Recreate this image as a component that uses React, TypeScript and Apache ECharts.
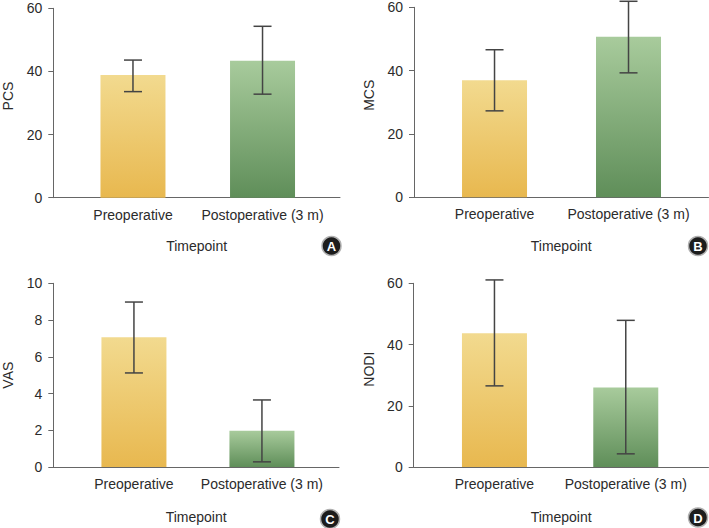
import React, { useEffect, useRef } from "react";
import * as echarts from "echarts";

const categories = ["Preoperative", "Postoperative (3 m)"];

const pcsMean = [38.9, 43.4];
const pcsLow = [33.6, 32.8];
const pcsHigh = [43.6, 54.3];

const mcsMean = [37.0, 50.7];
const mcsLow = [27.3, 39.3];
const mcsHigh = [46.6, 61.9];

const vasMean = [7.06, 1.98];
const vasLow = [5.12, 0.28];
const vasHigh = [8.98, 3.65];

const nodiMean = [43.7, 26.0];
const nodiLow = [26.5, 4.3];
const nodiHigh = [61.1, 47.9];

const yTicksA = { max: 60, interval: 20 };
const yTicksB = { max: 60, interval: 20 };
const yTicksC = { max: 10, interval: 2 };
const yTicksD = { max: 60, interval: 20 };

const FONT = "'Liberation Sans', Arial, Helvetica, sans-serif";
const TEXT = "#2b2b2b";
const AXIS = "#666";

const panels = [
  { name: "PCS", mean: pcsMean, low: pcsLow, high: pcsHigh, y: yTicksA, badge: "A",
    grid: { left: 53.3, top: 8.3, width: 286.7, height: 189.4 }, xmin: -0.615, xmax: 1.598, nameGap: 41,
    namePad: 14, badgePos: [331.5, 246] },
  { name: "MCS", mean: mcsMean, low: mcsLow, high: mcsHigh, y: yTicksB, badge: "B",
    grid: { left: 414, top: 7.3, width: 294.5, height: 190 }, xmin: -0.601, xmax: 1.597, nameGap: 41.5,
    namePad: 14, badgePos: [698, 246] },
  { name: "VAS", mean: vasMean, low: vasLow, high: vasHigh, y: yTicksC, badge: "C",
    grid: { left: 53.3, top: 283.3, width: 285.7, height: 183.7 }, xmin: -0.63, xmax: 1.602, nameGap: 43,
    namePad: 0, badgePos: [330, 519] },
  { name: "NODI", mean: nodiMean, low: nodiLow, high: nodiHigh, y: yTicksD, badge: "D",
    grid: { left: 413.7, top: 283.3, width: 294.8, height: 183.7 }, xmin: -0.615, xmax: 1.63, nameGap: 43,
    namePad: 12, badgePos: [698, 517.5] },
];

const barColors = [
  ["#f2da8f", "#e8b84f"],
  ["#a8cb9c", "#5f8e59"],
];

export default function App() {
  const ref = useRef<HTMLDivElement>(null);
  useEffect(() => {
    document.body.style.margin = "0";
    if (!ref.current) return;
    const chart = echarts.init(ref.current, null, { renderer: "svg" });

    const grid: any[] = [];
    const xAxis: any[] = [];
    const yAxis: any[] = [];
    const series: any[] = [];
    const graphic: any[] = [];

    panels.forEach((p, i) => {
      grid.push({ ...p.grid });
      xAxis.push({
        type: "value",
        gridIndex: i,
        min: p.xmin,
        max: p.xmax,
        name: "Timepoint",
        nameLocation: "middle",
        nameGap: p.nameGap,
        nameTextStyle: { fontFamily: FONT, fontSize: 14, color: TEXT },
        axisLine: { show: true, onZero: false, lineStyle: { color: AXIS, width: 1 } },
        axisTick: { show: false },
        splitLine: { show: false },
        axisLabel: {
          customValues: [0, 1],
          formatter: (v: number) => categories[Math.round(v)] ?? "",
          fontFamily: FONT,
          fontSize: 14,
          color: TEXT,
          margin: 10,
        },
      });
      yAxis.push({
        type: "value",
        gridIndex: i,
        min: 0,
        max: p.y.max,
        interval: p.y.interval,
        name: p.name,
        nameLocation: "middle",
        nameGap: 38,
        nameTextStyle: { fontFamily: FONT, fontSize: 14, color: TEXT, padding: [0, 0, 0, p.namePad] },
        axisLine: { show: true, onZero: false, lineStyle: { color: AXIS, width: 1 } },
        axisTick: { show: true, length: 5, lineStyle: { color: AXIS } },
        splitLine: { show: false },
        axisLabel: { fontFamily: FONT, fontSize: 14, color: TEXT, margin: 11 },
      });
      series.push({
        type: "bar",
        xAxisIndex: i,
        yAxisIndex: i,
        barWidth: 65,
        data: p.mean.map((m, j) => ({
          value: [j, m],
          itemStyle: {
            color: new echarts.graphic.LinearGradient(0, 0, 0, 1, [
              { offset: 0, color: barColors[j][0] },
              { offset: 1, color: barColors[j][1] },
            ]),
          },
        })),
        z: 2,
      });
      series.push({
        type: "custom",
        xAxisIndex: i,
        yAxisIndex: i,
        z: 5,
        clip: false,
        data: p.mean.map((_, j) => [j, p.low[j], p.high[j]]),
        encode: { x: 0, y: [1, 2] },
        renderItem: (params: any, api: any) => {
          const x = api.value(0);
          const lo = api.coord([x, api.value(1)]);
          const hi = api.coord([x, api.value(2)]);
          const half = 9;
          const style = { stroke: "#444", lineWidth: 1.5 };
          return {
            type: "group",
            children: [
              { type: "line", shape: { x1: hi[0], y1: hi[1], x2: lo[0], y2: lo[1] }, style },
              { type: "line", shape: { x1: hi[0] - half, y1: hi[1], x2: hi[0] + half, y2: hi[1] }, style },
              { type: "line", shape: { x1: lo[0] - half, y1: lo[1], x2: lo[0] + half, y2: lo[1] }, style },
            ],
          };
        },
      });
      graphic.push({
        type: "group",
        x: p.badgePos[0],
        y: p.badgePos[1],
        children: [
          { type: "circle", shape: { cx: 0, cy: 0, r: 9.5 }, style: { fill: "#1c1c1c", stroke: "#b0b0b0", lineWidth: 1.5 } },
          {
            type: "text",
            x: 0,
            y: 0.5,
            style: {
              text: p.badge,
              fill: "#fff",
              font: `bold 13px ${FONT}`,
              align: "center",
              verticalAlign: "middle",
            },
          },
        ],
      });
    });

    chart.setOption({
      animation: false,
      backgroundColor: "#fff",
      grid,
      xAxis,
      yAxis,
      series,
      graphic,
    });
    return () => chart.dispose();
  }, []);
  return <div ref={ref} style={{ width: 709, height: 528 }} />;
}
